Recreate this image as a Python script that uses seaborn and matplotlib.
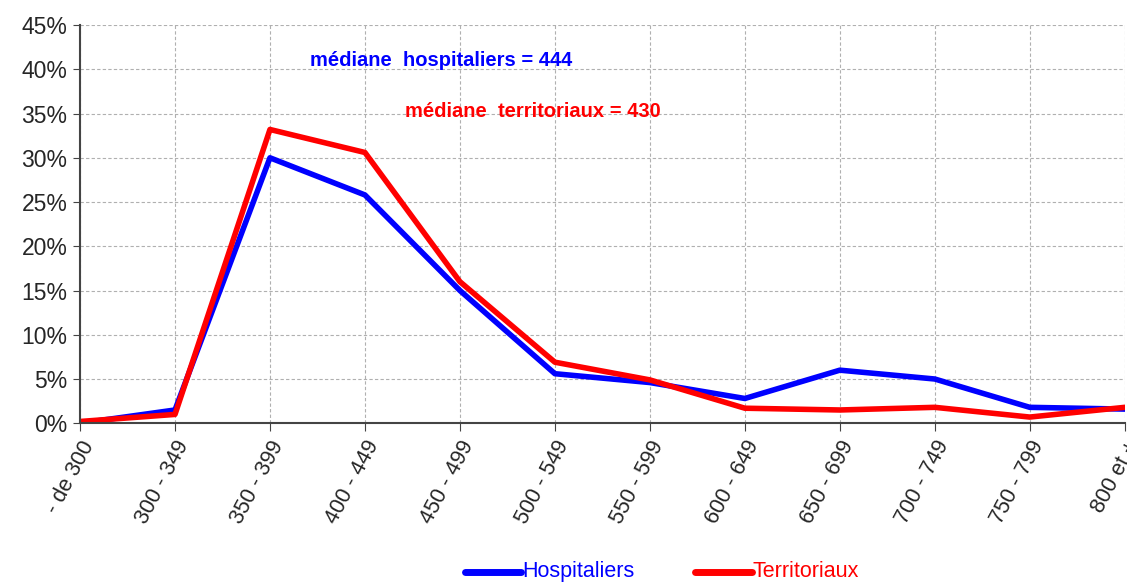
import matplotlib
matplotlib.use("Agg")
import matplotlib.pyplot as plt
import seaborn as sns
import pandas as pd
from matplotlib.ticker import PercentFormatter

categories = ["- de 300", "300 - 349", "350 - 399", "400 - 449", "450 - 499", "500 - 549",
              "550 - 599", "600 - 649", "650 - 699", "700 - 749", "750 - 799", "800 et +"]
hospitaliers = [0.0, 1.5, 30.0, 25.8, 15.0, 5.6, 4.6, 2.8, 6.0, 5.0, 1.8, 1.6]
territoriaux = [0.2, 1.0, 33.2, 30.6, 16.0, 6.9, 4.9, 1.7, 1.5, 1.8, 0.7, 1.8]

df = pd.DataFrame({
    "x": list(range(len(categories))) * 2,
    "valeur": hospitaliers + territoriaux,
    "serie": ["Hospitaliers"] * len(categories) + ["Territoriaux"] * len(categories),
})

sns.set_style("white")
plt.rcParams["font.family"] = ["Liberation Sans", "DejaVu Sans"]

fig = plt.figure(figsize=(11.27, 5.83), dpi=100)
ax = fig.add_axes([0.071, 0.274, 0.927, 0.683])

sns.lineplot(data=df, x="x", y="valeur", hue="serie",
             palette={"Hospitaliers": "#0000ff", "Territoriaux": "#ff0000"},
             linewidth=4, ax=ax, legend=False)

ax.set_xlim(0, len(categories) - 1)
ax.set_ylim(0, 45)
ax.set_yticks(range(0, 50, 5))
ax.yaxis.set_major_formatter(PercentFormatter(decimals=0))
ax.set_xticks(range(len(categories)))
ax.set_xticklabels(categories, rotation=62, ha="right", rotation_mode="anchor", fontsize=15.5)
ax.tick_params(axis="y", labelsize=16.5, length=5, color="#444444", direction="out", left=True, pad=4)
ax.tick_params(axis="x", length=6, color="#444444", direction="out", bottom=True, pad=4)
ax.grid(True, color="#b0b0b0", linestyle=(0, (3, 2)), linewidth=0.8)
ax.set_axisbelow(True)
ax.set_xlabel("")
ax.set_ylabel("")
for s in ["top", "right"]:
    ax.spines[s].set_visible(False)
ax.spines["left"].set_color("#444444")
ax.spines["bottom"].set_color("#444444")
ax.spines["left"].set_linewidth(1.5)
ax.spines["bottom"].set_linewidth(1.5)

ax.text(2.42, 41.0, "médiane  hospitaliers = 444", color="#0000ff",
        fontsize=14.5, fontweight="bold", va="center")
ax.text(3.42, 35.2, "médiane  territoriaux = 430", color="#ff0000",
        fontsize=14.5, fontweight="bold", va="center")

# legend at bottom
fig.lines.append(plt.Line2D([0.413, 0.462], [0.019, 0.019], color="#0000ff", linewidth=5,
                            transform=fig.transFigure))
fig.text(0.463, 0.019, "Hospitaliers", color="#0000ff", fontsize=15.5, va="center")
fig.lines.append(plt.Line2D([0.617, 0.667], [0.019, 0.019], color="#ff0000", linewidth=5,
                            transform=fig.transFigure))
fig.text(0.668, 0.019, "Territoriaux", color="#ff0000", fontsize=15.5, va="center")

fig.savefig("out.png", dpi=100)
